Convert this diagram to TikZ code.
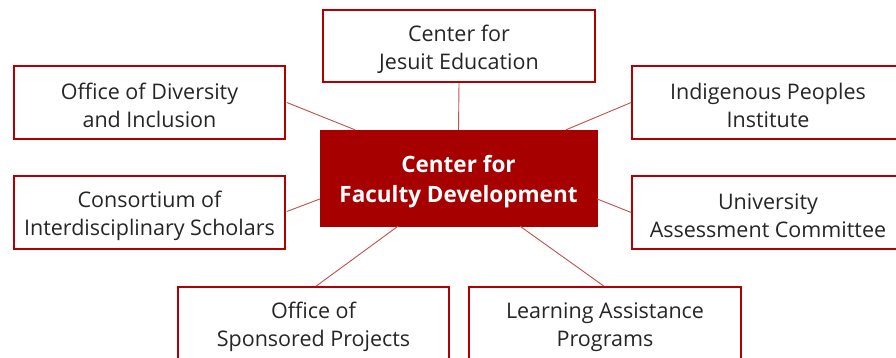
\documentclass[tikz,border=0pt]{standalone}
\usepackage{fontspec}
\setmainfont{Open Sans}
\definecolor{boxred}{HTML}{B00000}
\definecolor{linered}{HTML}{C0504D}
\begin{document}
\begin{tikzpicture}[x=1pt,y=-1pt,
  unit/.style={draw=boxred,line width=1.6pt,fill=white,inner sep=0pt},
  unittext/.style={label={[align=center,inner sep=0pt,yshift=-3pt,
     font=\fontsize{21.5}{28}\selectfont,text=black!85]center:#1}},
  hub/.style={fill=boxred!95!black,draw=boxred!95!black,inner sep=0pt},
  hubtext/.style={label={[align=center,inner sep=0pt,yshift=-3.5pt,
     font=\fontsize{22.5}{30}\selectfont\bfseries,text=white]center:#1}},
  link/.style={draw=linered,line width=0.9pt}]
\useasboundingbox (0,0) rectangle (896,358);
\node[hub,minimum width=277pt,minimum height=96pt,hubtext={Center for\\Faculty Development}] (c) at (458.5,178) {};
\node[unit,minimum width=272pt,minimum height=72pt,unittext={Center for\\Jesuit Education}] (je) at (459,46) {};
\node[unit,minimum width=271pt,minimum height=73pt,unittext={Office of Diversity\\and Inclusion}] (di) at (149.5,102.5) {};
\node[unit,minimum width=271pt,minimum height=73pt,unittext={Consortium of\\Interdisciplinary Scholars}] (cs) at (149.5,212.5) {};
\node[unit,minimum width=272pt,minimum height=73pt,unittext={Indigenous Peoples\\Institute}] (ip) at (768,102.5) {};
\node[unit,minimum width=272pt,minimum height=73pt,unittext={University\\Assessment Committee}] (ua) at (768,212.5) {};
\node[unit,minimum width=271pt,minimum height=74pt,unittext={Office of\\Sponsored Projects}] (sp) at (313.5,324) {};
\node[unit,minimum width=272pt,minimum height=74pt,unittext={Learning Assistance\\Programs}] (la) at (605,324) {};
\draw[link] (je.south) -- (c.north);
\draw[link] (di.east) ++(1,0) -- ([xshift=-103.5pt]c.north);
\draw[link] (ip.west) -- ([xshift=107.5pt]c.north);
\draw[link] (cs.east) ++(1,-1) -- ([yshift=-21pt]c.west);
\draw[link] ([yshift=-21pt]c.east) -- (ua.west);
\draw[link] ([xshift=2.5pt]sp.north) -- ([xshift=-60.5pt]c.south);
\draw[link] ([xshift=-1pt]la.north) -- ([xshift=61.5pt]c.south);
\end{tikzpicture}
\end{document}
